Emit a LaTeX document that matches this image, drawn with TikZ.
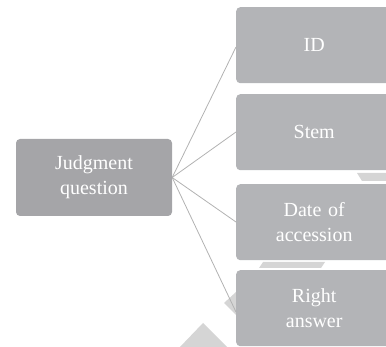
\documentclass[tikz,border=0pt]{standalone}
\usepackage{fontspec}
\setmainfont{Liberation Serif}
\definecolor{rootfill}{HTML}{A5A5A8}
\definecolor{leaffill}{HTML}{B3B4B7}
\definecolor{shardfill}{HTML}{D5D5D5}
\definecolor{linkgray}{HTML}{B2B2B2}
\tikzset{
  box/.style={fill=#1, draw=none, rounded corners=4pt, text=white,
    font=\fontsize{20}{25}\selectfont, align=center, inner sep=0pt},
  leaf/.style={box=leaffill, minimum width=156pt, minimum height=76pt,
    anchor=north west, text width=150pt},
  link/.style={draw=linkgray, line width=0.8pt},
  shard/.style={fill=shardfill, draw=none}
}
\begin{document}
\begin{tikzpicture}[x=1pt, y=-1pt]
  \useasboundingbox (0,0) rectangle (386,347);
  \clip (0,0) rectangle (386,347);

  % light background shards
  \fill[shard] (357,173) -- (386,173) -- (386,181) -- (362,181) -- cycle;
  \fill[shard] (263,262) -- (325,262) -- (321,268) -- (259,268) -- cycle;
  \fill[shard] (224,303) -- (236,292) -- (236,315) -- cycle;
  \fill[shard] (203,323) -- (228,348) -- (179,348) -- cycle;

  % root and leaf boxes
  \node[box=rootfill, minimum width=156pt, minimum height=77pt, text width=150pt]
    (root) at (94,177.5) {Judgment\\question};
  \node[leaf] (id)   at (236,7)   {ID};
  \node[leaf] (stem) at (236,94)  {Stem};
  \node[leaf] (date) at (236,184) {Date of\\accession};
  \node[leaf] (ra)   at (236,270) {Right\\answer};

  % connector end points on the leaf edges
  \coordinate (idend)   at (236,47);
  \coordinate (stemend) at (236,132);
  \coordinate (dateend) at (236,222);
  \coordinate (raend)   at (236,312);

  \draw[link] (root.east) -- (idend);
  \draw[link] (root.east) -- (stemend);
  \draw[link] (root.east) -- (dateend);
  \draw[link] (root.east) -- (raend);
\end{tikzpicture}
\end{document}
